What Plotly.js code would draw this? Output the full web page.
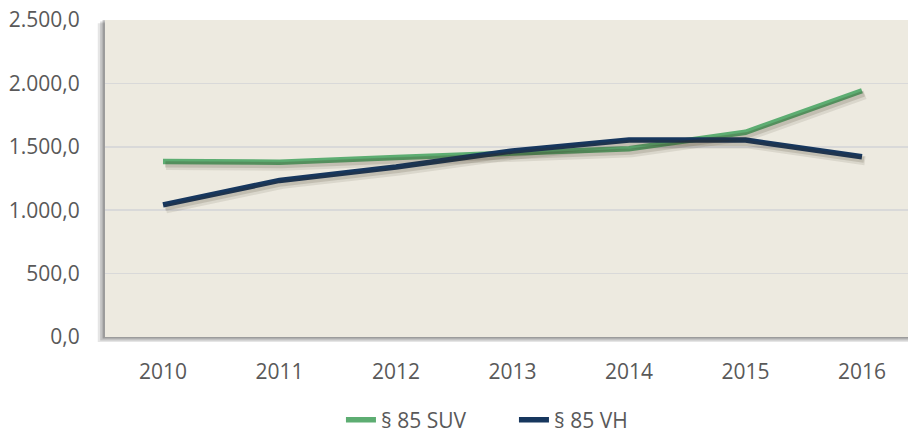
<!DOCTYPE html>
<html><head><meta charset="utf-8">
<script src="https://cdn.plot.ly/plotly-3.0.1.min.js"></script>
<style>body{margin:0;background:#fff}#c{width:908px;height:433px}</style>
</head><body><div id="c"></div>
<script>
const years = ['2010','2011','2012','2013','2014','2015','2016'];
const suv = [1385, 1378, 1415, 1455, 1485, 1615, 1942];
const vh  = [1042, 1235, 1340, 1467, 1553, 1553, 1422];
const yTicks = [0, 500, 1000, 1500, 2000, 2500];

const xr = [-0.498, 6.395];
const yr = [0, 2500];
const pxX = 116.5, pxY = 500/63.4;
const xr2 = [xr[0]-3/pxX, xr[1]-3/pxX];
const yr2 = [yr[0]+4*pxY, yr[1]+4*pxY];
const xr3 = [xr[0]-2/pxX, xr[1]-2/pxX];
const yr3 = [yr[0]+3*pxY, yr[1]+3*pxY];

const shadow = (y, ax, w, a) => ({x: years, y: y, type:'scatter', mode:'lines', xaxis:'x'+ax, yaxis:'y'+ax,
  line:{color:'rgba(60,50,30,'+a+')', width:w}, showlegend:false, hoverinfo:'skip'});

const data = [
  shadow(suv, 2, 9, 0.10), shadow(vh, 2, 9, 0.10),
  shadow(suv, 3, 6, 0.15), shadow(vh, 3, 6, 0.15),
  {x: years, y: suv, name:'§ 85 SUV', type:'scatter', mode:'lines', line:{color:'#5dad72', width:5.5}},
  {x: years, y: vh, name:'§ 85 VH', type:'scatter', mode:'lines', line:{color:'#17375e', width:5.5}}
];

const layout = {
  width:908, height:433,
  margin:{l:105, r:0, t:20, b:96, autoexpand:false},
  paper_bgcolor:'#ffffff', plot_bgcolor:'rgba(0,0,0,0)',
  separators:',.',
  font:{family:'Open Sans, Liberation Sans, sans-serif', color:'#595959', size:21},
  xaxis:{type:'category', range:xr, showgrid:false, zeroline:false, showline:false, automargin:false,
    ticks:'outside', ticklen:16, tickcolor:'rgba(0,0,0,0)', tickfont:{size:21, color:'#595959'}},
  xaxis2:{type:'category', range:xr2, overlaying:'x', visible:false},
  yaxis2:{range:yr2, overlaying:'y', visible:false},
  xaxis3:{type:'category', range:xr3, overlaying:'x', visible:false},
  yaxis3:{range:yr3, overlaying:'y', visible:false},
  yaxis:{range:yr, tickvals:yTicks, tickformat:',.1f', showgrid:true, gridcolor:'#d9d9d9', gridwidth:1.5, automargin:false,
    zeroline:false, showline:false, ticks:'outside', ticklen:20, tickcolor:'rgba(0,0,0,0)',
    tickfont:{size:21, color:'#595959'}},
  showlegend:true,
  legend:{orientation:'h', xref:'container', yref:'container', x:0.3755, xanchor:'left', y:0.03, yanchor:'middle',
    entrywidth:128, entrywidthmode:'pixels', font:{size:21, color:'#595959'}},
  shapes:[
    {type:'rect', xref:'paper', yref:'paper', x0:-0.009, x1:1, y0:-0.016, y1:0.99, layer:'below', line:{width:0}, fillcolor:'rgba(0,0,0,0.10)'},
    {type:'rect', xref:'paper', yref:'paper', x0:-0.006, x1:1, y0:-0.011, y1:0.995, layer:'below', line:{width:0}, fillcolor:'rgba(0,0,0,0.15)'},
    {type:'rect', xref:'paper', yref:'paper', x0:-0.003, x1:1, y0:-0.005, y1:1, layer:'below', line:{width:0}, fillcolor:'rgba(0,0,0,0.2)'},
    {type:'rect', xref:'paper', yref:'paper', x0:0, x1:1, y0:0, y1:1, layer:'below', line:{width:0}, fillcolor:'#edeae0'}
  ]
};
Plotly.newPlot('c', data, layout, {displayModeBar:false, staticPlot:true});
</script></body></html>
